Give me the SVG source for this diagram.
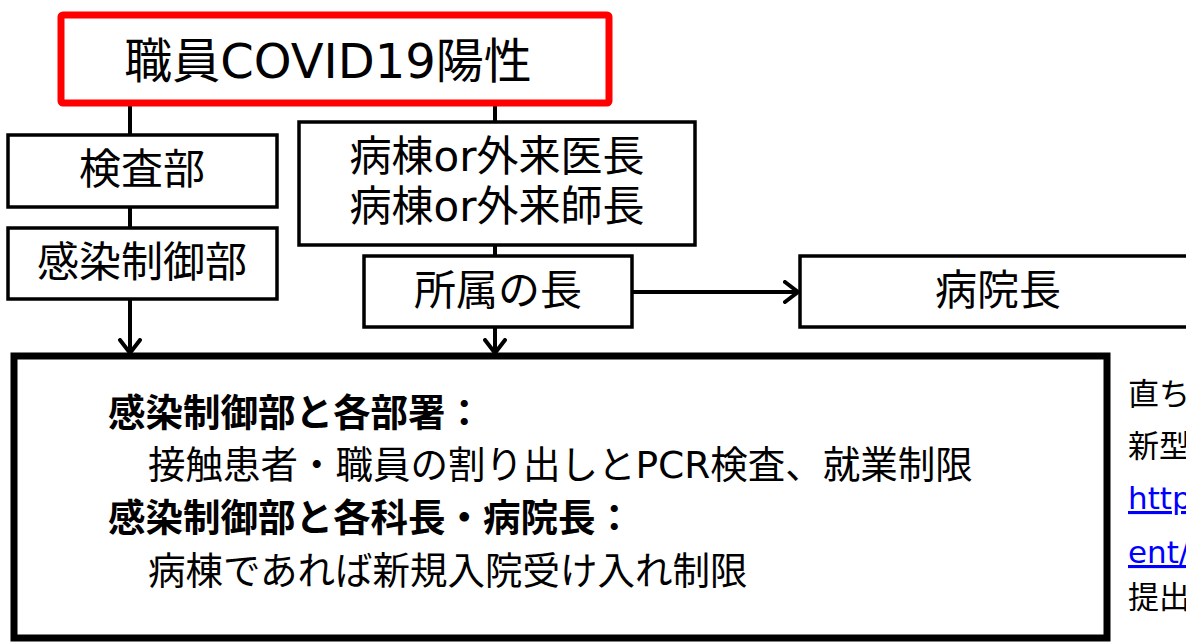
<svg xmlns="http://www.w3.org/2000/svg" width="1186" height="642" viewBox="0 0 1186 642">
<defs>
<style>
text{font-family:"DejaVu Sans","Noto Sans CJK JP",sans-serif;fill:#000}
.box{fill:#fff;stroke:#000;stroke-width:3.5}
.lbl{font-size:42px;text-anchor:middle}
.body{font-size:37.5px}
.b{font-weight:bold}
.side{font-size:31px}
.link{fill:#0000ff;text-decoration:underline}
.con{stroke:#000;stroke-width:4;fill:none}
</style>
<marker id="arr" viewBox="0 0 16 24" refX="15" refY="12" markerWidth="16" markerHeight="24" markerUnits="userSpaceOnUse" orient="auto">
<path d="M2,2 L15,12 L2,22" fill="none" stroke="#000" stroke-width="4" stroke-linecap="round" stroke-linejoin="round"/>
</marker>
</defs>
<rect width="1186" height="642" fill="#fff"/>
<g id="connectors">
<line class="con" x1="130" y1="106" x2="130" y2="137"/>
<line class="con" x1="130" y1="207" x2="130" y2="230"/>
<line class="con" x1="130" y1="299" x2="130" y2="353" marker-end="url(#arr)"/>
<line class="con" x1="495" y1="106" x2="495" y2="124"/>
<line class="con" x1="495" y1="245" x2="495" y2="258"/>
<line class="con" x1="495" y1="327" x2="495" y2="353" marker-end="url(#arr)"/>
<line class="con" x1="632" y1="292" x2="798" y2="292" marker-end="url(#arr)"/>
</g>
<g id="node-covid">
<rect x="61" y="15" width="548" height="88" fill="#fff" stroke="#ff0000" stroke-width="7" rx="2"/>
<text x="328" y="78" style="font-size:48px;text-anchor:middle">職員COVID19陽性</text>
</g>
<g id="node-kensa">
<rect class="box" x="8" y="135" width="269" height="72"/>
<text class="lbl" x="142" y="184">検査部</text>
</g>
<g id="node-kansen">
<rect class="box" x="8" y="228" width="269" height="71"/>
<text class="lbl" x="142" y="277">感染制御部</text>
</g>
<g id="node-byoto">
<rect class="box" x="299" y="122" width="396" height="123"/>
<text class="lbl" x="497" y="171">病棟or外来医長</text>
<text class="lbl" x="497" y="221">病棟or外来師長</text>
</g>
<g id="node-shozoku">
<rect class="box" x="364" y="256" width="268" height="71"/>
<text class="lbl" x="498" y="305">所属の長</text>
</g>
<g id="node-inchou">
<rect class="box" x="800" y="256" width="400" height="71"/>
<text class="lbl" x="998" y="305">病院長</text>
</g>
<g id="node-actions">
<rect x="14" y="356" width="1093" height="282" fill="#fff" stroke="#000" stroke-width="7"/>
<text class="body b" x="108" y="426">感染制御部と各部署：</text>
<text class="body" x="148" y="478">接触患者・職員の割り出しとPCR検査、就業制限</text>
<text class="body b" x="108" y="531">感染制御部と各科長・病院長：</text>
<text class="body" x="148" y="584">病棟であれば新規入院受け入れ制限</text>
</g>
<g id="side-note">
<text class="side" x="1128" y="405">直ち</text>
<text class="side" x="1128" y="457">新型</text>
<text class="side link" x="1128" y="509">http</text>
<text class="side link" x="1128" y="563">ent/</text>
<text class="side" x="1128" y="608">提出</text>
</g>
</svg>
